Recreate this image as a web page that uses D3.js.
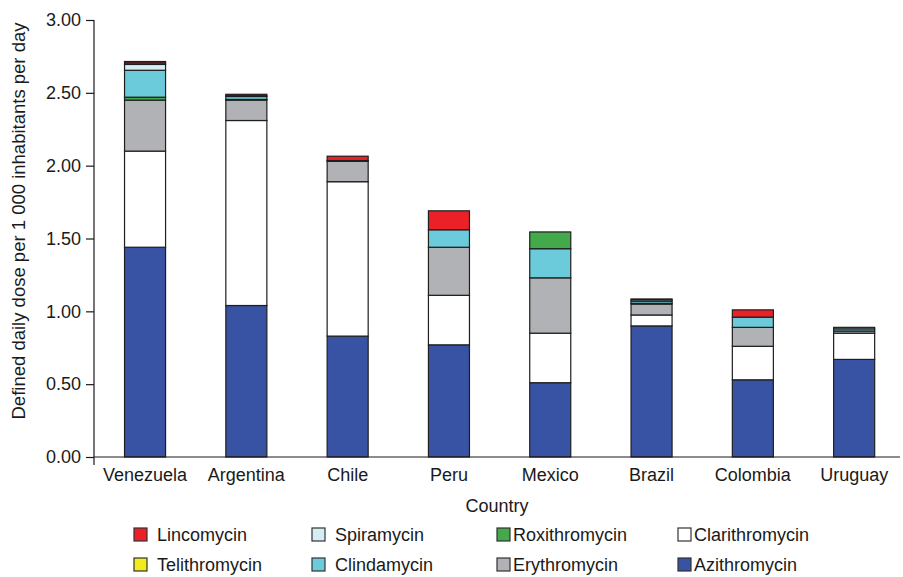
<!DOCTYPE html>
<html>
<head>
<meta charset="utf-8">
<script src="https://cdn.jsdelivr.net/npm/d3@7"></script>
<style>
  body { margin: 0; background: #fff; }
  svg text { font-family: "Liberation Sans", Arial, Helvetica, sans-serif; fill: #1a1a1a; }
</style>
</head>
<body>
<script>
// data (DDD per 1 000 inhabitants per day)
var countries = ["Venezuela", "Argentina", "Chile", "Peru", "Mexico", "Brazil", "Colombia", "Uruguay"];
var azithromycin   = [1.44, 1.04, 0.83, 0.77, 0.51, 0.90, 0.53, 0.67];
var clarithromycin = [0.66, 1.27, 1.06, 0.34, 0.34, 0.075, 0.23, 0.18];
var erythromycin   = [0.35, 0.14, 0.14, 0.33, 0.38, 0.075, 0.13, 0.015];
var roxithromycin  = [0.02, 0.005, 0, 0, 0.115, 0.005, 0, 0];
var clindamycin    = [0.185, 0.02, 0.005, 0.12, 0.20, 0.015, 0.07, 0.015];
var spiramycin     = [0.04, 0.005, 0, 0, 0, 0.01, 0, 0.01];
var telithromycin  = [0.01, 0, 0, 0, 0, 0, 0, 0];
var lincomycin     = [0.01, 0.01, 0.03, 0.13, 0, 0.005, 0.05, 0];

var yTicks = [0, 0.5, 1, 1.5, 2, 2.5, 3];

// stacking order bottom -> top (Mexico has roxithromycin drawn on top)
var stackOrder  = ["Azithromycin", "Clarithromycin", "Erythromycin", "Roxithromycin", "Clindamycin", "Spiramycin", "Telithromycin", "Lincomycin"];
var mexicoOrder = ["Azithromycin", "Clarithromycin", "Erythromycin", "Clindamycin", "Roxithromycin", "Spiramycin", "Telithromycin", "Lincomycin"];

// legend layout order (row by row)
var legendOrder = ["Lincomycin", "Spiramycin", "Roxithromycin", "Clarithromycin",
                   "Telithromycin", "Clindamycin", "Erythromycin", "Azithromycin"];

var series = {
  "Azithromycin": azithromycin, "Clarithromycin": clarithromycin,
  "Erythromycin": erythromycin, "Roxithromycin": roxithromycin,
  "Clindamycin": clindamycin, "Spiramycin": spiramycin,
  "Telithromycin": telithromycin, "Lincomycin": lincomycin
};
var colors = {
  "Azithromycin": "#3953a4", "Clarithromycin": "#ffffff",
  "Erythromycin": "#b1b2b6", "Roxithromycin": "#43a94a",
  "Clindamycin": "#6bcbdb", "Spiramycin": "#d5eef4",
  "Telithromycin": "#f3ec1b", "Lincomycin": "#ec2127"
};

var W = 903, H = 577;
var svg = d3.select("body").append("svg")
    .attr("width", W)
    .attr("height", H);

var x = d3.scaleBand()
    .domain(countries)
    .range([94.4, 904.8])
    .paddingInner(0.595)
    .paddingOuter(0.2975);

var y = d3.scaleLinear()
    .domain([0, 3])
    .range([457, 20]);

// build segments by hand so each country can keep its own order
var segs = [];
countries.forEach(function(c, i){
  var order = c == "Mexico" ? mexicoOrder : stackOrder;
  var base = 0;
  order.forEach(function(k){
    var v = series[k][i];
    if (v > 0) {
      segs.push({country: c, key: k, y0: base, y1: base + v});
      base += v;
    }
  });
});

svg.append("g").selectAll("rect")
  .data(segs)
  .enter()
  .append("rect")
    .attr("x", function(d){ return x(d.country); })
    .attr("width", x.bandwidth())
    .attr("y", function(d){ return y(d.y1); })
    .attr("height", function(d){ return y(d.y0) - y(d.y1); })
    .attr("fill", function(d){ return colors[d.key]; })
    .attr("stroke", "#1e1e1e")
    .attr("stroke-width", 1.2);

// y axis
var yAxis = svg.append("g")
    .attr("transform", "translate(94,0)")
    .call(d3.axisLeft(y).tickValues(yTicks).tickFormat(d3.format(".2f")).tickSize(8).tickPadding(5));
yAxis.select(".domain").attr("stroke", "#1a1a1a").attr("stroke-width", 1.2)
    .attr("d", "M0,20V465");
yAxis.selectAll(".tick line").attr("stroke", "#1a1a1a").attr("stroke-width", 1.2);
yAxis.selectAll("text").style("font-size", "18px");

// x axis
var xAxis = svg.append("g")
    .attr("transform", "translate(0,457)")
    .call(d3.axisBottom(x).tickSize(0).tickPadding(11));
xAxis.select(".domain").attr("stroke", "#1a1a1a").attr("stroke-width", 1.2)
    .attr("d", "M94,0H900");
xAxis.selectAll("text").style("font-size", "18px");

svg.append("text")
    .attr("x", 497)
    .attr("y", 512)
    .attr("text-anchor", "middle")
    .style("font-size", "18px")
    .text("Country");

svg.append("text")
    .attr("transform", "translate(25,221) rotate(-90)")
    .attr("text-anchor", "middle")
    .style("font-size", "18.5px")
    .text("Defined daily dose per 1 000 inhabitants per day");

// legend
var legX = [134, 312, 497, 678];
var legY = [535, 565];
var leg = svg.append("g").selectAll("g")
  .data(legendOrder)
  .enter()
  .append("g")
    .attr("transform", function(d, i){ return "translate(" + legX[i % 4] + "," + legY[Math.floor(i / 4)] + ")"; });

leg.append("rect")
    .attr("x", 0).attr("y", -7)
    .attr("width", 13).attr("height", 13)
    .attr("fill", function(d){ return colors[d]; })
    .attr("stroke", "#333")
    .attr("stroke-width", 1.2);

leg.append("text")
    .attr("x", function(d, i){ return (i % 4 >= 2) ? 16 : 23; })
    .attr("y", 6)
    .style("font-size", "18px")
    .text(function(d){ return d; });
</script>
</body>
</html>
